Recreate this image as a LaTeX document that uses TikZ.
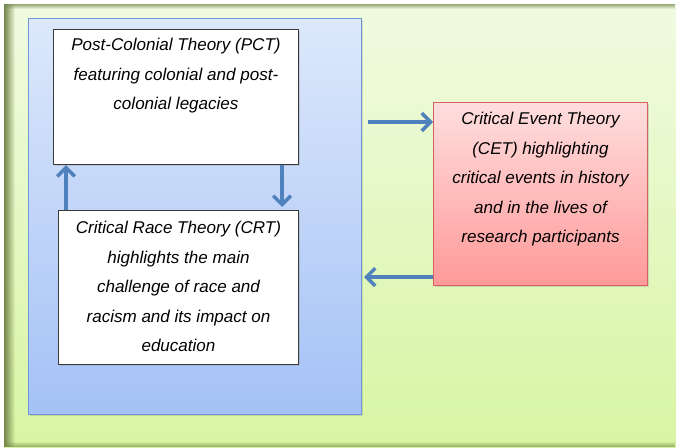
\documentclass[tikz,border=0pt]{standalone}
\usepackage{fontspec}
\setmainfont{Liberation Sans}
\usepackage{tikz}
\usetikzlibrary{arrows.meta, positioning, calc, shadows, fadings}
\definecolor{framegreenTop}{HTML}{F0FBE1}
\definecolor{framegreenBottom}{HTML}{D8F5A3}
\definecolor{frameolive}{HTML}{74864A}
\definecolor{panelblueTop}{HTML}{DDE8FB}
\definecolor{panelblueBottom}{HTML}{A4C2F6}
\definecolor{panelblueEdge}{HTML}{6F97D6}
\definecolor{eventredTop}{HTML}{FFDEDE}
\definecolor{eventredBottom}{HTML}{FF9999}
\definecolor{eventredEdge}{HTML}{D65F5F}
\definecolor{arrowblue}{HTML}{4F81BD}
\definecolor{inkbox}{HTML}{3A3A3A}

\tikzset{
  softshadow/.style={drop shadow={opacity=0.25, shadow xshift=0.8pt, shadow yshift=-0.8pt}},
  panel/.style={draw=panelblueEdge, line width=0.6pt, top color=panelblueTop,
    bottom color=panelblueBottom, inner sep=0pt, softshadow},
  theorybox/.style={draw=inkbox, fill=white, line width=0.6pt, inner sep=0pt, softshadow},
  eventbox/.style={draw=eventredEdge, line width=0.6pt, top color=eventredTop,
    bottom color=eventredBottom, inner sep=0pt, softshadow},
  theorytext/.style={anchor=north, align=center, inner sep=0pt,
    font=\fontsize{9.7}{16.8}\selectfont\itshape},
  flow/.style={arrowblue, line width=2pt, -{Straight Barb[length=5pt, width=10pt]}}
}

\begin{document}
\begin{tikzpicture}[x=0.02cm, y=-0.02cm]
  % canvas measured in pixels of the reference (676 x 447)
  \useasboundingbox (0,0) rectangle (676,447);
  % green frame, with its inner shadow at the left, top and bottom
  \shade[top color=framegreenTop, bottom color=framegreenBottom] (4,4) rectangle (676,447);
  \fill[frameolive, path fading=east] (4,4) rectangle (15,447);
  \fill[frameolive, path fading=south, opacity=0.7] (4,4) rectangle (676,9);
  \fill[frameolive, path fading=north, opacity=0.7] (4,441) rectangle (676,447);

  % blue panel holding PCT and CRT
  \node[panel, anchor=north west, minimum width=6.66cm, minimum height=7.92cm] (blue) at (28,18) {};
  \node[theorybox, anchor=north west, minimum width=4.9cm, minimum height=2.7cm] (pct) at (53,29) {};
  \node[theorybox, anchor=north west, minimum width=4.8cm, minimum height=3.08cm] (crt) at (58,210) {};
  \node[eventbox, anchor=north west, minimum width=4.28cm, minimum height=3.66cm] (cet) at (433,102) {};

  \node[theorytext] (pcttext) at ([yshift=-0.18cm]pct.north)
    {Post-Colonial Theory (PCT)\\featuring colonial and post-\\colonial legacies};
  \node[theorytext] (crttext) at ([yshift=-0.22cm]crt.north)
    {Critical Race Theory (CRT)\\highlights the main\\challenge of race and\\racism and its impact on\\education};
  \node[theorytext] (cettext) at ([yshift=-0.2cm]cet.north)
    {Critical Event Theory\\(CET) highlighting\\critical events in history\\and in the lives of\\research participants};

  % arrows between the theories
  \coordinate (cetIn) at ([yshift=-0.4cm]cet.north west);
  \coordinate (cetOut) at ([yshift=0.18cm]cet.south west);
  \draw[flow] ([xshift=0.16cm]crt.north west) -- ([xshift=0.16cm]crt.north west |- pct.south);
  \draw[flow, shorten >=0.06cm] ([xshift=-0.34cm]pct.south east) -- ([xshift=-0.34cm]pct.south east |- crt.north);
  \draw[flow, shorten <=0.12cm] (blue.east |- cetIn) -- (cetIn);
  \draw[flow, shorten >=0.04cm] (cetOut) -- (blue.east |- cetOut);
\end{tikzpicture}
\end{document}
